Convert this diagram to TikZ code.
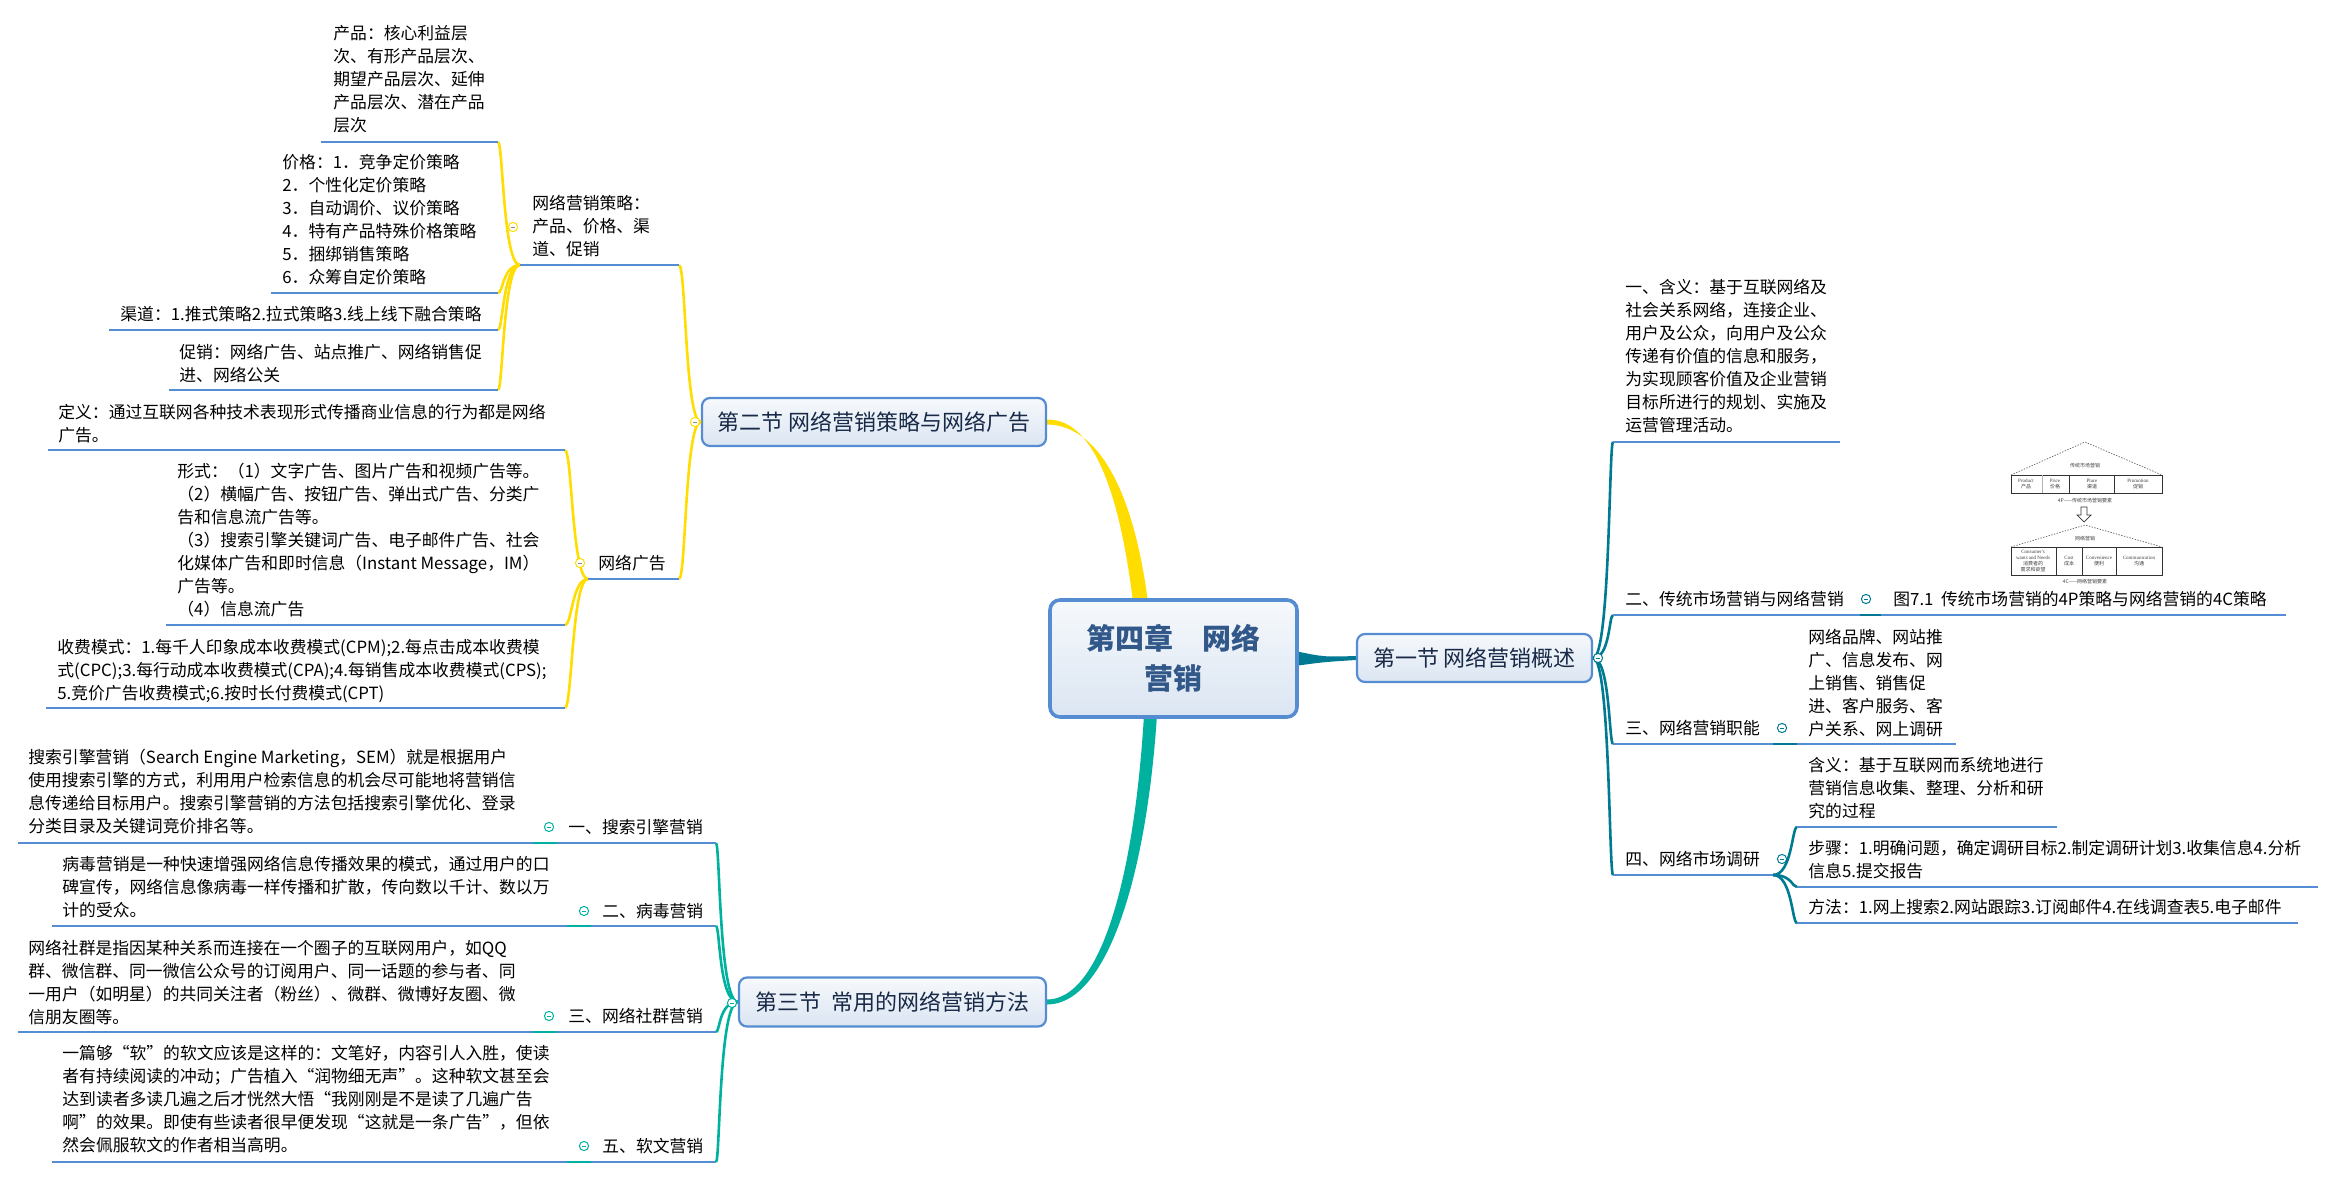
\documentclass[tikz,border=0pt]{standalone}
\usepackage{fontspec}
\setmainfont{Noto Sans CJK SC}
\newfontfamily\figen{Liberation Serif}
\usetikzlibrary{calc}
\definecolor{ulblue}{RGB}{84,141,212}
\definecolor{yel}{RGB}{255,221,0}
\definecolor{tealA}{RGB}{0,177,160}
\definecolor{tealB}{RGB}{0,122,146}
\definecolor{nbord}{RGB}{86,140,210}
\definecolor{ctext}{RGB}{50,88,138}
\definecolor{stext}{RGB}{25,42,72}
\definecolor{ntop}{RGB}{246,249,252}
\definecolor{nbot}{RGB}{219,229,242}
\newcommand{\fs}{\rule{0pt}{8.4pt}}
\pgfdeclarelayer{back}
\pgfsetlayers{back,main}
\newcommand{\bconn}[5]{\draw[#1] (#2) .. controls ($(#2)+(#4,0)$) and ($(#3)+(#5,0)$) .. (#3);}
\newcommand{\mk}[4]{\node[mkr=#1] (#2) at (#3) {};
  \draw[#4, line width=0.45pt] ($(#2.center)+(-2.3,0)$) -- ($(#2.center)+(2.3,0)$);}
\tikzset{
 txt/.style={anchor=north west, inner sep=0pt, align=left, font=\fontsize{8.4}{11.5}\selectfont, text=black},
 ul/.style={draw=ulblue, line width=1.3pt},
 yl/.style={draw=yel, line width=1.3pt},
 ta/.style={draw=tealA, line width=1.3pt},
 tb/.style={draw=tealB, line width=1.3pt},
 sec/.style={rectangle, rounded corners=4pt, draw=nbord, line width=1.1pt, top color=ntop, bottom color=nbot, text=stext, font=\fontsize{11}{13}\selectfont, inner sep=0pt},
 ctr/.style={rectangle, rounded corners=5pt, draw=nbord, line width=1.8pt, top color=ntop, bottom color=nbot, text=ctext, font=\fontsize{14.5}{20}\selectfont\bfseries, align=center, inner sep=0pt},
 mkr/.style={circle, draw=#1, fill=white, line width=0.5pt, minimum size=4.6pt, inner sep=0pt},
 figt/.style={inner sep=0pt, align=center, font=\fontsize{2.5}{3}\selectfont, text=black!75},
 figb/.style={draw=black!80, line width=0.4pt},
 figr/.style={draw=black!60, line width=0.35pt, dash pattern=on 0.7pt off 0.7pt},
}
\begin{document}
\begin{tikzpicture}[x=0.5pt, y=-0.5pt]
\useasboundingbox (0,0) rectangle (2336,1178);

% ---------- main nodes ----------
\node[ctr, minimum width=123.5pt, minimum height=58.5pt] (c) at (1173.5,658.5) {第四章　网络\\营销};
\node[sec, minimum width=172pt, minimum height=24pt] (s2) at (874,422) {第二节 网络营销策略与网络广告};
\node[sec, minimum width=117.5pt, minimum height=24pt] (s1) at (1474.5,658) {第一节 网络营销概述};
\node[sec, minimum width=153.5pt, minimum height=24.5pt] (s3) at (892.5,1002) {第三节\ \ 常用的网络营销方法};

\begin{pgfonlayer}{back}
\fill[yel] ($(c.north)+(-40.5,4)$) .. controls ($(c.north)+(-55.5,-119)$) and ($(s2.east)+(42,-3)$) .. ($(s2.east)+(0,-2.5)$)
  -- ($(s2.east)+(0,2.5)$) .. controls ($(s2.east)+(46,3)$) and ($(c.north)+(-41.5,-119)$) .. ($(c.north)+(-25.5,4)$) -- cycle;
\fill[tealA] ($(c.south)+(-29.5,-4)$) .. controls ($(c.south)+(-39.5,164)$) and ($(s3.east)+(52,-2.5)$) .. ($(s3.east)+(0,-2.5)$)
  -- ($(s3.east)+(0,2.5)$) .. controls ($(s3.east)+(58,2.5)$) and ($(c.south)+(-27.5,164)$) .. ($(c.south)+(-16.5,-4)$) -- cycle;
\fill[tealB] ($(c.east)+(-4,-7.5)$) .. controls ($(c.east)+(25,-1.5)$) .. ($(s1.west)+(0,-2)$)
  -- ($(s1.west)+(0,2)$) .. controls ($(c.east)+(25,3.5)$) .. ($(c.east)+(-4,7.5)$) -- cycle;
\end{pgfonlayer}

% ---------- section 2 texts ----------
\node[txt] (tcp) at (333,22.6) {\fs 产品：核心利益层\\次、有形产品层次、\\期望产品层次、延伸\\产品层次、潜在产品\\层次};
\node[txt] (tjg) at (282,151.6) {\fs 价格：1．竞争定价策略\\2．个性化定价策略\\3．自动调价、议价策略\\4．特有产品特殊价格策略\\5．捆绑销售策略\\6．众筹自定价策略};
\node[txt] (tqd) at (120,303.6) {\fs 渠道：1.推式策略2.拉式策略3.线上线下融合策略};
\node[txt] (tcx) at (179,341.6) {\fs 促销：网络广告、站点推广、网络销售促\\进、网络公关};
\node[txt] (tms) at (532,192.6) {\fs 网络营销策略：\\产品、价格、渠\\道、促销};
\node[txt] (twg) at (598,552.6) {\fs 网络广告};
\node[txt] (tdy) at (58,401.6) {\fs 定义：通过互联网各种技术表现形式传播商业信息的行为都是网络\\广告。};
\node[txt] (txs) at (177,460.6) {\fs 形式：（1）文字广告、图片广告和视频广告等。\\（2）横幅广告、按钮广告、弹出式广告、分类广\\告和信息流广告等。\\（3）搜索引擎关键词广告、电子邮件广告、社会\\化媒体广告和即时信息（Instant Message，IM）\\广告等。\\（4）信息流广告};
\node[txt] (tsf) at (57,636.6) {\fs 收费模式：1.每千人印象成本收费模式(CPM);2.每点击成本收费模\\式(CPC);3.每行动成本收费模式(CPA);4.每销售成本收费模式(CPS);\\5.竞价广告收费模式;6.按时长付费模式(CPT)};

\coordinate (cpL) at (321,142); \coordinate (cpR) at (498,142);
\coordinate (jgL) at (271,293); \coordinate (jgR) at (498,293);
\coordinate (qdL) at (109,330); \coordinate (qdR) at (498,330);
\coordinate (cxL) at (169,390); \coordinate (cxR) at (498,390);
\coordinate (msL) at (520,265); \coordinate (msR) at (679,265);
\coordinate (wgL) at (588,579); \coordinate (wgR) at (679,579);
\coordinate (dyL) at (48,450);  \coordinate (dyR) at (565,450);
\coordinate (xsL) at (166,625); \coordinate (xsR) at (565,625);
\coordinate (sfL) at (46,708);  \coordinate (sfR) at (565,708);

\bconn{yl}{s2.west}{msR}{-16}{7}
\bconn{yl}{s2.west}{wgR}{-16}{7}
\bconn{yl}{msL}{cpR}{-17}{5}
\bconn{yl}{msL}{jgR}{-17}{5}
\bconn{yl}{msL}{qdR}{-17}{5}
\bconn{yl}{msL}{cxR}{-17}{5}
\bconn{yl}{wgL}{dyR}{-16}{7}
\bconn{yl}{wgL}{xsR}{-16}{7}
\bconn{yl}{wgL}{sfR}{-16}{7}

\draw[ul] (cpL) -- (cpR);
\draw[ul] (jgL) -- (jgR);
\draw[ul] (qdL) -- (qdR);
\draw[ul] (cxL) -- (cxR);
\draw[ul] (msL) -- (msR);
\draw[ul] (wgL) -- (wgR);
\draw[ul] (dyL) -- (dyR);
\draw[ul] (xsL) -- (xsR);
\draw[ul] (sfL) -- (sfR);

% ---------- section 3 texts ----------
\node[txt] (tssd) at (28,746.6) {\fs 搜索引擎营销（Search Engine Marketing，SEM）就是根据用户\\使用搜索引擎的方式，利用用户检索信息的机会尽可能地将营销信\\息传递给目标用户。搜索引擎营销的方法包括搜索引擎优化、登录\\分类目录及关键词竞价排名等。};
\node[txt] (tss) at (568,816.6) {\fs 一、搜索引擎营销};
\node[txt] (tbdd) at (62,853.6) {\fs 病毒营销是一种快速增强网络信息传播效果的模式，通过用户的口\\碑宣传，网络信息像病毒一样传播和扩散，传向数以千计、数以万\\计的受众。};
\node[txt] (tbd) at (602,900.6) {\fs 二、病毒营销};
\node[txt] (tsqd) at (28,937.6) {\fs 网络社群是指因某种关系而连接在一个圈子的互联网用户，如QQ\\群、微信群、同一微信公众号的订阅用户、同一话题的参与者、同\\一用户（如明星）的共同关注者（粉丝）、微群、微博好友圈、微\\信朋友圈等。};
\node[txt] (tsq) at (568,1005.6) {\fs 三、网络社群营销};
\node[txt] (trwd) at (62,1042.6) {\fs 一篇够“软”的软文应该是这样的：文笔好，内容引人入胜，使读\\者有持续阅读的冲动；广告植入“润物细无声”。这种软文甚至会\\达到读者多读几遍之后才恍然大悟“我刚刚是不是读了几遍广告\\啊”的效果。即使有些读者很早便发现“这就是一条广告”，但依\\然会佩服软文的作者相当高明。};
\node[txt] (trw) at (602,1135.6) {\fs 五、软文营销};

\coordinate (ssdL) at (18,843);  \coordinate (ssdR) at (533,843);
\coordinate (ssL) at (557,843);  \coordinate (ssR) at (716,843);
\coordinate (bddL) at (52,926);  \coordinate (bddR) at (567,926);
\coordinate (bdL) at (591,926);  \coordinate (bdR) at (716,926);
\coordinate (sqdL) at (18,1032); \coordinate (sqdR) at (533,1032);
\coordinate (sqL) at (557,1032); \coordinate (sqR) at (716,1032);
\coordinate (rwdL) at (52,1162); \coordinate (rwdR) at (567,1162);
\coordinate (rwL) at (591,1162); \coordinate (rwR) at (716,1162);

\bconn{ta}{s3.west}{ssR}{-19}{4}
\bconn{ta}{s3.west}{bdR}{-19}{4}
\bconn{ta}{s3.west}{sqR}{-19}{4}
\bconn{ta}{s3.west}{rwR}{-19}{4}
\draw[ul] (ssdL) -- (ssdR); \draw[ta] (ssdR) -- (ssL); \draw[ul] (ssL) -- (ssR);
\draw[ul] (bddL) -- (bddR); \draw[ta] (bddR) -- (bdL); \draw[ul] (bdL) -- (bdR);
\draw[ul] (sqdL) -- (sqdR); \draw[ta] (sqdR) -- (sqL); \draw[ul] (sqL) -- (sqR);
\draw[ul] (rwdL) -- (rwdR); \draw[ta] (rwdR) -- (rwL); \draw[ul] (rwL) -- (rwR);

% ---------- section 1 texts ----------
\node[txt] (thy) at (1625,276.6) {\fs 一、含义：基于互联网络及\\社会关系网络，连接企业、\\用户及公众，向用户及公众\\传递有价值的信息和服务，\\为实现顾客价值及企业营销\\目标所进行的规划、实施及\\运营管理活动。};
\node[txt] (tct) at (1625,588.6) {\fs 二、传统市场营销与网络营销};
\node[txt] (ttu) at (1893,588.6) {\fs 图7.1\ \ 传统市场营销的4P策略与网络营销的4C策略};
\node[txt] (tzn) at (1625,717.6) {\fs 三、网络营销职能};
\node[txt] (tznc) at (1808,626.6) {\fs 网络品牌、网站推\\广、信息发布、网\\上销售、销售促\\进、客户服务、客\\户关系、网上调研};
\node[txt] (tsc) at (1625,848.6) {\fs 四、网络市场调研};
\node[txt] (thy2) at (1808,754.6) {\fs 含义：基于互联网而系统地进行\\营销信息收集、整理、分析和研\\究的过程};
\node[txt] (tbz) at (1808,837.6) {\fs 步骤：1.明确问题，确定调研目标2.制定调研计划3.收集信息4.分析\\信息5.提交报告};
\node[txt] (tff) at (1808,896.6) {\fs 方法：1.网上搜索2.网站跟踪3.订阅邮件4.在线调查表5.电子邮件};

\coordinate (hyL) at (1613,442);  \coordinate (hyR) at (1840,442);
\coordinate (ctL) at (1613,615);  \coordinate (ctR) at (1860,615);
\coordinate (tuL) at (1881,615);  \coordinate (tuR) at (2286,615);
\coordinate (znL) at (1613,744);  \coordinate (znR) at (1773,744);
\coordinate (zncL) at (1797,744); \coordinate (zncR) at (1956,744);
\coordinate (scL) at (1613,875);  \coordinate (scR) at (1773,875);
\coordinate (hy2L) at (1797,827); \coordinate (hy2R) at (2057,827);
\coordinate (bzL) at (1797,887);  \coordinate (bzR) at (2318,887);
\coordinate (ffL) at (1797,923);  \coordinate (ffR) at (2298,923);

\bconn{tb}{s1.east}{hyL}{17}{-4}
\bconn{tb}{s1.east}{ctL}{17}{-4}
\bconn{tb}{s1.east}{znL}{17}{-4}
\bconn{tb}{s1.east}{scL}{17}{-4}
\bconn{tb}{scR}{hy2L}{19}{-5}
\bconn{tb}{scR}{bzL}{19}{-5}
\bconn{tb}{scR}{ffL}{19}{-5}
\draw[ul] (hyL) -- (hyR);
\draw[ul] (ctL) -- (ctR); \draw[tb] (ctR) -- (tuL); \draw[ul] (tuL) -- (tuR);
\draw[ul] (znL) -- (znR); \draw[tb] (znR) -- (zncL); \draw[ul] (zncL) -- (zncR);
\draw[ul] (scL) -- (scR);
\draw[ul] (hy2L) -- (hy2R);
\draw[ul] (bzL) -- (bzR);
\draw[ul] (ffL) -- (ffR);

% ---------- figure 4P / 4C ----------
\draw[figr] (2011,475) -- (2085,442) -- (2162,475);
\draw[figb] (2011,475) rectangle (2162,493);
\draw[draw=black!30, line width=0.3pt] (2042,475) -- (2042,493);
\draw[figb] (2069,475) -- (2069,493) (2114,475) -- (2114,493);
\node[figt] (f1) at (2085,466) {传统市场营销};
\node[figt] (f2) at (2026,484) {{\figen Product}\\产品};
\node[figt] (f3) at (2055,484) {{\figen Price}\\价格};
\node[figt] (f4) at (2092,484) {{\figen Place}\\渠道};
\node[figt] (f5) at (2138,484) {{\figen Promotion}\\促销};
\node[figt] (f6) at (2085,501) {4P——传统市场营销要素};
\draw[figb, line width=0.35pt, fill=white] (2081,507) -- (2087,507) -- (2087,515) -- (2091,515) -- (2084,522) -- (2077,515) -- (2081,515) -- cycle;
\draw[figr] (2011,547) -- (2085,525) -- (2162,547);
\draw[figb] (2011,547) rectangle (2162,575);
\draw[figb] (2056,547) -- (2056,575) (2082,547) -- (2082,575) (2116,547) -- (2116,575);
\node[figt] (f7) at (2085,539) {网络营销};
\node[figt] (f8) at (2033,561) {{\figen Consumer's}\\{\figen wants and Needs}\\消费者的\\需求和欲望};
\node[figt] (f9) at (2069,561) {{\figen Cost}\\成本};
\node[figt] (f10) at (2099,561) {{\figen Convenience}\\便利};
\node[figt] (f11) at (2139,561) {{\figen Communication}\\沟通};
\node[figt] (f12) at (2085,582) {4C——网络营销要素};

% ---------- collapse markers ----------
\mk{yel}{m2}{695,422}{black!45}
\mk{yel}{mms}{513,227}{black!45}
\mk{yel}{mwg}{580,563}{black!45}
\mk{tealA}{m3}{732,1003}{tealA}
\mk{tealA}{mss}{549,827}{tealA}
\mk{tealA}{mbd}{584,911}{tealA}
\mk{tealA}{msq}{549,1016}{tealA}
\mk{tealA}{mrw}{584,1146}{tealA}
\mk{tealB}{m1}{1598,658}{tealB}
\mk{tealB}{mct}{1866,599}{tealB}
\mk{tealB}{mzn}{1782,728}{tealB}
\mk{tealB}{msc}{1782,859}{tealB}
\end{tikzpicture}
\end{document}
